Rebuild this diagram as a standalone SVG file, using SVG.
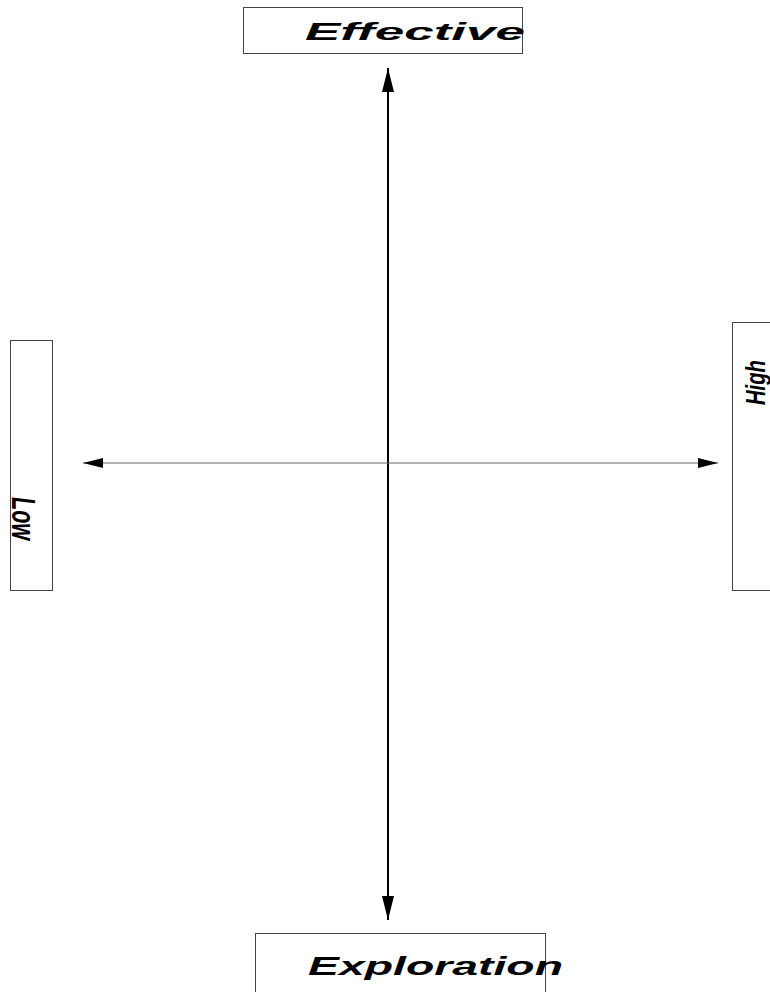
<svg xmlns="http://www.w3.org/2000/svg" width="770" height="992" viewBox="0 0 770 992">
<style>
.box{fill:#fff;stroke:#444;stroke-width:1}
.lbl{font-family:"Liberation Sans",Arial,sans-serif;font-weight:bold;font-style:italic;fill:#000}
</style>
<defs>
<marker id="av" viewBox="0 0 24 12" refX="24" refY="6" markerWidth="24" markerHeight="12" markerUnits="userSpaceOnUse" orient="auto-start-reverse">
<path d="M0,0 L24,6 L0,12 z" fill="#000"/>
</marker>
<marker id="ahz" viewBox="0 0 20 10" refX="20" refY="5" markerWidth="20" markerHeight="10" markerUnits="userSpaceOnUse" orient="auto-start-reverse">
<path d="M0,0 L20,5 L0,10 z" fill="#000"/>
</marker>
</defs>
<rect width="770" height="992" fill="#fff"/>
<g id="connectors">
<line x1="388" y1="68" x2="388" y2="920" stroke="#000" stroke-width="2" marker-start="url(#av)" marker-end="url(#av)"/>
<line x1="83" y1="463" x2="718" y2="463" stroke="#666" stroke-width="1" marker-start="url(#ahz)" marker-end="url(#ahz)"/>
</g>
<g id="node-top">
<rect class="box" x="243.5" y="7.5" width="279" height="46"/>
<text class="lbl" x="305" y="40" font-size="24" textLength="220" lengthAdjust="spacingAndGlyphs">Effective</text>
</g>
<g id="node-bottom">
<rect class="box" x="255.5" y="933.5" width="290" height="70"/>
<text class="lbl" x="308" y="975" font-size="26" textLength="255" lengthAdjust="spacingAndGlyphs">Exploration</text>
</g>
<g id="node-left">
<rect class="box" x="10.5" y="340.5" width="42" height="250"/>
<text class="lbl" font-size="34" transform="translate(12,497) rotate(90)" textLength="43" lengthAdjust="spacingAndGlyphs">Low</text>
</g>
<g id="node-right">
<rect class="box" x="732.5" y="322.5" width="50" height="268"/>
<text class="lbl" font-size="28" transform="translate(765,405) rotate(-90)" textLength="45" lengthAdjust="spacingAndGlyphs">High</text>
</g>
</svg>
